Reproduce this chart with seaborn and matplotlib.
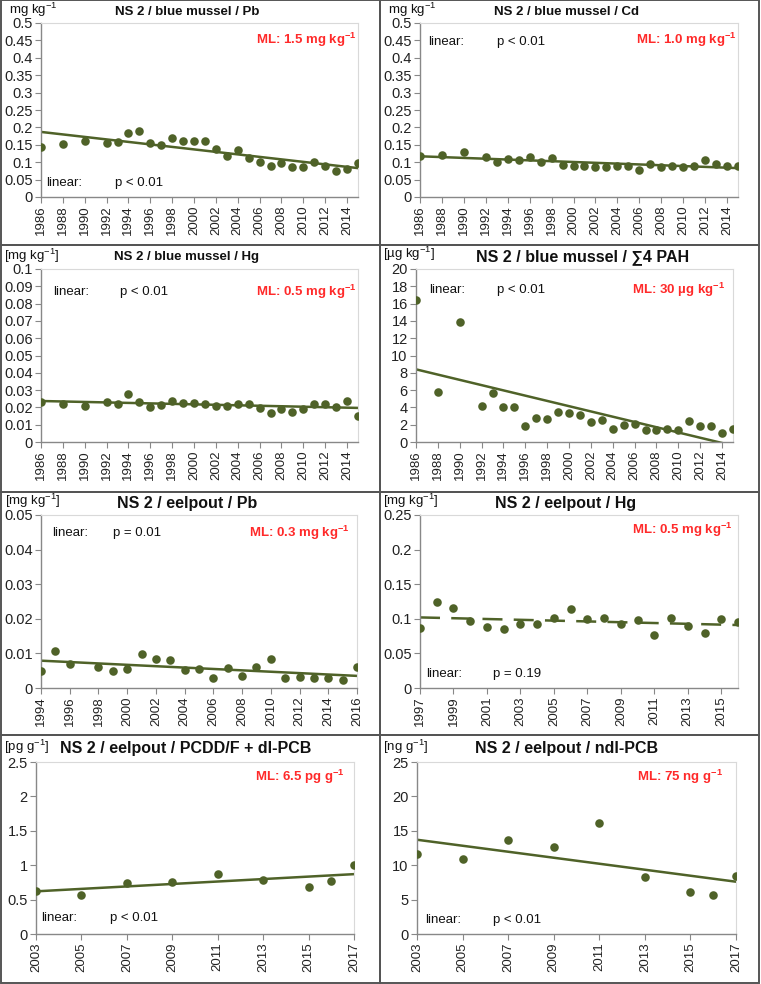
import numpy as np
import pandas as pd
import matplotlib
matplotlib.use('Agg')
import matplotlib.pyplot as plt
from matplotlib.patches import Rectangle
from matplotlib.ticker import FuncFormatter, MultipleLocator
import seaborn as sns

# ---- data ----
mussel_years = [1986, 1988, 1990] + list(range(1992, 2016))
mussel_pb = [0.145, 0.152, 0.162, 0.155, 0.158, 0.185, 0.19, 0.155, 0.15, 0.17, 0.16,
             0.162, 0.162, 0.138, 0.118, 0.136, 0.113, 0.1, 0.088, 0.098, 0.086, 0.085,
             0.102, 0.088, 0.075, 0.08, 0.097]
mussel_cd = [0.118, 0.12, 0.13, 0.114, 0.101, 0.11, 0.107, 0.116, 0.101, 0.111, 0.092,
             0.089, 0.089, 0.086, 0.087, 0.089, 0.089, 0.079, 0.094, 0.087, 0.09, 0.086,
             0.09, 0.107, 0.094, 0.09, 0.089]
mussel_hg = [0.023, 0.022, 0.021, 0.023, 0.022, 0.0275, 0.023, 0.0205, 0.0215, 0.0235,
             0.0225, 0.0225, 0.0222, 0.021, 0.021, 0.0222, 0.0218, 0.0195, 0.017, 0.0192,
             0.0172, 0.0193, 0.022, 0.0222, 0.02, 0.0237, 0.015]
mussel_pah = [16.4, 5.8, 13.9, 4.2, 5.7, 4.1, 4.1, 1.9, 2.75, 2.7, 3.5, 3.4, 3.1, 2.3,
              2.6, 1.5, 2.0, 2.1, 1.35, 1.35, 1.55, 1.35, 2.4, 1.9, 1.9, 1.05, 1.5]

eel_pb_years = [1994, 1995, 1996] + list(range(1998, 2017))
eel_pb = [0.005, 0.0107, 0.0068, 0.0062, 0.005, 0.0056, 0.0099, 0.0085, 0.008, 0.0053,
          0.0055, 0.003, 0.0057, 0.0034, 0.006, 0.0085, 0.0029, 0.0032, 0.0028, 0.0028,
          0.0023, 0.0061]
eel_hg_years = list(range(1997, 2017))
eel_hg = [0.087, 0.124, 0.115, 0.097, 0.088, 0.085, 0.092, 0.092, 0.101, 0.114, 0.1,
          0.101, 0.092, 0.098, 0.076, 0.101, 0.089, 0.08, 0.099, 0.096]

eel_pcb_years = [2003, 2005, 2007, 2009, 2011, 2013, 2015, 2016, 2017]
eel_pcdd = [0.63, 0.57, 0.74, 0.75, 0.87, 0.79, 0.68, 0.77, 1.01]
eel_ndl = [11.6, 10.9, 13.7, 12.7, 16.1, 8.3, 6.1, 5.7, 8.5]

# trend lines (value at first and last year), as drawn in the reference
trend_mussel_pb = [0.187, 0.083]
trend_mussel_cd = [0.117, 0.083]
trend_mussel_hg = [0.0237, 0.0197]
trend_mussel_pah = [8.4, -0.42]
trend_eel_pb = [0.0079, 0.0035]
trend_eel_hg = [0.102, 0.091]
trend_eel_pcdd = [0.62, 0.87]
trend_eel_ndl = [13.7, 7.6]

titles = ['NS 2 / blue mussel / Pb', 'NS 2 / blue mussel / Cd',
          'NS 2 / blue mussel / Hg', 'NS 2 / blue mussel / \u22114 PAH',
          'NS 2 / eelpout / Pb', 'NS 2 / eelpout / Hg',
          'NS 2 / eelpout / PCDD/F + dl-PCB', 'NS 2 / eelpout / ndl-PCB']
units = ['mg kg$^{-1}$', 'mg kg$^{-1}$', '[mg kg$^{-1}$]', '[\u00b5g kg$^{-1}$]',
         '[mg kg$^{-1}$]', '[mg kg$^{-1}$]', '[pg g$^{-1}$]', '[ng g$^{-1}$]']
ml_labels = ['ML: 1.5 mg kg', 'ML: 1.0 mg kg', 'ML: 0.5 mg kg', 'ML: 30 \u00b5g kg',
             'ML: 0.3 mg kg', 'ML: 0.5 mg kg', 'ML: 6.5 pg g', 'ML: 75 ng g']
p_labels = ['p < 0.01', 'p < 0.01', 'p < 0.01', 'p < 0.01',
            'p = 0.01', 'p = 0.19', 'p < 0.01', 'p < 0.01']

GREEN = '#4f6228'
RED = '#ff2a2a'
W, H = 761, 984

sns.set_style('white')
plt.rcParams['font.family'] = ['Liberation Sans', 'DejaVu Sans']
plt.rcParams['mathtext.fontset'] = 'custom'
plt.rcParams['mathtext.rm'] = 'Liberation Sans'
plt.rcParams['mathtext.bf'] = 'Liberation Sans:bold'
plt.rcParams['mathtext.default'] = 'regular'

fig = plt.figure(figsize=(W / 100, H / 100), dpi=100)


def fx(px):
    return px / W


def fy(py):
    return 1 - py / H


def fmt(v, pos):
    return f'{v:g}'


panels = [
    dict(x=mussel_years, y=mussel_pb, trend=trend_mussel_pb, ymax=0.5, ystep=0.05,
         xticks=range(1986, 2015, 2), box=(41, 23, 358, 197),
         title_xy=(187, 12), tsize=9.5, unit_xy=(9, 10),
         lin_xy=(46, 183), p_x=115, ml_xy=(357, 40)),
    dict(x=mussel_years, y=mussel_cd, trend=trend_mussel_cd, ymax=0.5, ystep=0.05,
         xticks=range(1986, 2015, 2), box=(420, 23, 738, 197),
         title_xy=(566, 12), tsize=9.5, unit_xy=(388, 10),
         lin_xy=(428, 42), p_x=497, ml_xy=(737, 40)),
    dict(x=mussel_years, y=mussel_hg, trend=trend_mussel_hg, ymax=0.1, ystep=0.01,
         xticks=range(1986, 2015, 2), box=(41, 269, 358, 442),
         title_xy=(187, 257), tsize=9.5, unit_xy=(4, 256),
         lin_xy=(53, 292), p_x=120, ml_xy=(357, 292)),
    dict(x=mussel_years, y=mussel_pah, trend=trend_mussel_pah, ymax=20, ystep=2,
         xticks=range(1986, 2015, 2), box=(416, 269, 733, 442),
         title_xy=(583, 257), tsize=11.5, unit_xy=(383, 254),
         lin_xy=(429, 290), p_x=497, ml_xy=(725, 290)),
    dict(x=eel_pb_years, y=eel_pb, trend=trend_eel_pb, ymax=0.05, ystep=0.01,
         xticks=range(1994, 2017, 2), box=(41, 515, 357, 688),
         title_xy=(187, 503), tsize=11.5, unit_xy=(5, 501),
         lin_xy=(52, 533), p_x=113, ml_xy=(350, 533)),
    dict(x=eel_hg_years, y=eel_hg, trend=trend_eel_hg, ymax=0.25, ystep=0.05,
         xticks=range(1997, 2016, 2), box=(420, 515, 738, 688),
         title_xy=(566, 503), tsize=11.5, unit_xy=(383, 501),
         lin_xy=(426, 674), p_x=493, ml_xy=(733, 530), dashed=True),
    dict(x=eel_pcb_years, y=eel_pcdd, trend=trend_eel_pcdd, ymax=2.5, ystep=0.5,
         xticks=range(2003, 2018, 2), box=(36, 762, 354, 934),
         title_xy=(186, 748), tsize=11.5, unit_xy=(4, 747),
         lin_xy=(41, 918), p_x=110, ml_xy=(345, 777)),
    dict(x=eel_pcb_years, y=eel_ndl, trend=trend_eel_ndl, ymax=25, ystep=5,
         xticks=range(2003, 2018, 2), box=(417, 762, 736, 934),
         title_xy=(567, 748), tsize=11.5, unit_xy=(383, 747),
         lin_xy=(425, 920), p_x=493, ml_xy=(723, 777)),
]

for i, p in enumerate(panels):
    x0, y0, x1, y1 = p['box']
    ax = fig.add_axes([fx(x0), fy(y1), fx(x1 - x0), (y1 - y0) / H])
    df = pd.DataFrame({'year': p['x'], 'value': p['y']})
    trend = pd.DataFrame({'year': [p['x'][0], p['x'][-1]], 'value': p['trend']})
    ls = (0, (8, 4.5)) if p.get('dashed') else '-'
    sns.lineplot(data=trend, x='year', y='value', ax=ax, color=GREEN, lw=1.8,
                 linestyle=ls, zorder=2)
    sns.scatterplot(data=df, x='year', y='value', ax=ax, color=GREEN, s=38,
                    linewidth=0, zorder=3)
    ax.set_xlim(p['x'][0], p['x'][-1])
    ax.set_ylim(0, p['ymax'])
    ax.yaxis.set_major_locator(MultipleLocator(p['ystep']))
    ax.yaxis.set_major_formatter(FuncFormatter(fmt))
    ax.set_xticks(list(p['xticks']))
    ax.set_xticklabels([str(t) for t in p['xticks']], rotation=90)
    ax.set_xlabel('')
    ax.set_ylabel('')
    ax.tick_params(axis='both', colors='#222222', length=4,
                   width=0.8, pad=2, direction='out')
    ax.tick_params(axis='y', labelsize=10.5)
    ax.tick_params(axis='x', labelsize=9.5)
    ax.tick_params(axis='both', color='#888888')
    ax.xaxis.set_ticks_position('bottom')
    ax.yaxis.set_ticks_position('left')
    for side in ['left', 'bottom']:
        ax.spines[side].set_color('#888888')
        ax.spines[side].set_linewidth(1.0)
    for side in ['top', 'right']:
        ax.spines[side].set_color('#d9d9d9')
        ax.spines[side].set_linewidth(0.8)

    tx, ty = p['title_xy']
    fig.text(fx(tx), fy(ty), titles[i], ha='center', va='center',
             fontsize=p['tsize'], fontweight='bold', color='#111111')
    ux, uy = p['unit_xy']
    fig.text(fx(ux), fy(uy), units[i], ha='left', va='center', fontsize=9.5,
             color='#111111')
    lx, ly = p['lin_xy']
    fig.text(fx(lx), fy(ly), 'linear:', ha='left', va='center', fontsize=9.5,
             color='#111111')
    fig.text(fx(p['p_x']), fy(ly), p_labels[i], ha='left', va='center',
             fontsize=9.5, color='#111111')
    mx, my = p['ml_xy']
    fig.text(fx(mx), fy(my), ml_labels[i] + r'$^{\mathbf{-1}}$', ha='right',
             va='center', fontsize=9.5, fontweight='bold', color=RED)

# panel frames
rows = [(0, 245), (245, 492), (492, 735), (735, 983)]
cols = [(1, 380), (380, 759)]
for r0, r1 in rows:
    for c0, c1 in cols:
        fig.add_artist(Rectangle((fx(c0), fy(r1)), fx(c1 - c0), (r1 - r0) / H,
                                 transform=fig.transFigure, fill=False,
                                 edgecolor='#555555', lw=1.4))

fig.savefig('out.png', dpi=100)
